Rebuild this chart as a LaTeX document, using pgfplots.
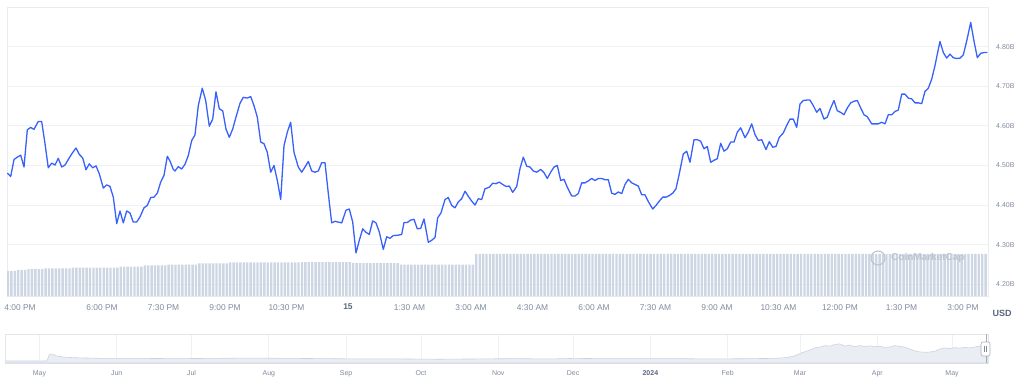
\documentclass[border=0pt]{standalone}
\usepackage{pgfplots}
\pgfplotsset{compat=1.18}
\usepackage{pgfplotstable}
\usepackage{fontspec}
\setmainfont{Liberation Sans}
\definecolor{cmcblue}{RGB}{56,97,251}
\definecolor{tickgray}{RGB}{128,138,157}
\definecolor{darkgray}{RGB}{88,102,126}
\definecolor{gridc}{RGB}{239,241,245}
\definecolor{framec}{RGB}{232,235,240}
\definecolor{barc}{RGB}{207,214,227}
\definecolor{navfill}{RGB}{234,237,243}
\definecolor{navline}{RGB}{205,211,222}
\definecolor{navborder}{RGB}{226,230,236}
\definecolor{wmc}{RGB}{190,197,210}

\pgfplotstableread[row sep=\\]{
h v\\
-8.310 4.481\\ -8.227 4.472\\ -8.146 4.515\\ -8.066 4.521\\ -7.983 4.526\\ -7.902 4.496\\
-7.822 4.590\\ -7.739 4.596\\ -7.659 4.591\\ -7.554 4.611\\ -7.471 4.611\\ -7.390 4.555\\
-7.310 4.494\\ -7.227 4.506\\ -7.146 4.501\\ -7.066 4.518\\ -6.983 4.496\\ -6.902 4.501\\
-6.822 4.515\\ -6.739 4.529\\ -6.634 4.544\\ -6.554 4.528\\ -6.471 4.519\\ -6.390 4.489\\
-6.310 4.504\\ -6.227 4.494\\ -6.146 4.499\\ -6.066 4.479\\ -5.968 4.443\\ -5.885 4.451\\
-5.805 4.447\\ -5.724 4.420\\ -5.641 4.353\\ -5.561 4.385\\ -5.480 4.355\\ -5.398 4.385\\
-5.317 4.380\\ -5.237 4.357\\ -5.154 4.357\\ -5.073 4.370\\ -4.976 4.393\\ -4.895 4.399\\
-4.812 4.419\\ -4.732 4.420\\ -4.651 4.430\\ -4.568 4.458\\ -4.488 4.475\\ -4.407 4.523\\
-4.341 4.511\\ -4.261 4.490\\ -4.220 4.486\\ -4.139 4.497\\ -4.056 4.491\\ -3.976 4.503\\
-3.895 4.525\\ -3.812 4.563\\ -3.732 4.577\\ -3.651 4.651\\ -3.554 4.695\\ -3.471 4.664\\
-3.383 4.599\\ -3.300 4.617\\ -3.220 4.686\\ -3.139 4.643\\ -3.056 4.638\\ -2.976 4.592\\
-2.895 4.571\\ -2.812 4.592\\ -2.732 4.622\\ -2.634 4.657\\ -2.554 4.672\\ -2.456 4.670\\
-2.373 4.674\\ -2.293 4.651\\ -2.212 4.622\\ -2.129 4.559\\ -2.049 4.555\\ -1.968 4.533\\
-1.885 4.483\\ -1.805 4.500\\ -1.724 4.462\\ -1.641 4.414\\ -1.561 4.550\\ -1.480 4.584\\
-1.398 4.609\\ -1.317 4.533\\ -1.212 4.496\\ -1.129 4.483\\ -1.049 4.496\\ -0.968 4.510\\
-0.885 4.486\\ -0.805 4.483\\ -0.724 4.486\\ -0.641 4.507\\ -0.561 4.507\\ -0.480 4.429\\
-0.398 4.355\\ -0.317 4.359\\ -0.237 4.357\\ -0.154 4.355\\ -0.049 4.387\\ 0.032 4.390\\
0.115 4.357\\ 0.195 4.279\\ 0.276 4.311\\ 0.359 4.340\\ 0.439 4.331\\ 0.520 4.326\\
0.602 4.360\\ 0.683 4.355\\ 0.763 4.332\\ 0.861 4.288\\ 0.944 4.320\\ 1.024 4.316\\
1.105 4.323\\ 1.227 4.324\\ 1.310 4.326\\ 1.366 4.356\\ 1.446 4.356\\ 1.529 4.362\\
1.610 4.364\\ 1.690 4.340\\ 1.773 4.341\\ 1.854 4.365\\ 1.959 4.306\\ 2.041 4.311\\
2.122 4.318\\ 2.188 4.368\\ 2.268 4.380\\ 2.366 4.414\\ 2.446 4.419\\ 2.529 4.399\\
2.610 4.393\\ 2.690 4.408\\ 2.773 4.416\\ 2.854 4.435\\ 2.934 4.422\\ 3.017 4.410\\
3.098 4.400\\ 3.178 4.416\\ 3.261 4.414\\ 3.341 4.441\\ 3.446 4.445\\ 3.529 4.455\\
3.610 4.454\\ 3.690 4.458\\ 3.773 4.452\\ 3.854 4.447\\ 3.934 4.448\\ 4.017 4.432\\
4.115 4.447\\ 4.195 4.492\\ 4.276 4.521\\ 4.359 4.498\\ 4.439 4.496\\ 4.520 4.486\\
4.602 4.483\\ 4.700 4.490\\ 4.780 4.482\\ 4.861 4.467\\ 4.944 4.483\\ 5.024 4.496\\
5.105 4.500\\ 5.188 4.462\\ 5.268 4.465\\ 5.349 4.445\\ 5.456 4.423\\ 5.537 4.423\\
5.617 4.429\\ 5.700 4.456\\ 5.780 4.456\\ 5.861 4.461\\ 5.944 4.467\\ 6.024 4.462\\
6.105 4.467\\ 6.188 4.467\\ 6.268 4.464\\ 6.349 4.464\\ 6.432 4.430\\ 6.512 4.427\\
6.593 4.433\\ 6.676 4.429\\ 6.756 4.452\\ 6.837 4.465\\ 6.920 4.456\\ 7.000 4.452\\
7.080 4.448\\ 7.163 4.426\\ 7.244 4.426\\ 7.324 4.409\\ 7.432 4.390\\ 7.512 4.399\\
7.593 4.410\\ 7.676 4.420\\ 7.756 4.420\\ 7.837 4.424\\ 7.920 4.430\\ 8.000 4.441\\
8.080 4.479\\ 8.178 4.529\\ 8.261 4.536\\ 8.341 4.508\\ 8.439 4.565\\ 8.520 4.565\\
8.602 4.561\\ 8.683 4.542\\ 8.763 4.548\\ 8.846 4.508\\ 8.927 4.513\\ 9.007 4.517\\
9.090 4.556\\ 9.171 4.536\\ 9.251 4.542\\ 9.334 4.559\\ 9.415 4.559\\ 9.495 4.584\\
9.578 4.595\\ 9.683 4.570\\ 9.763 4.584\\ 9.846 4.605\\ 9.927 4.578\\ 10.007 4.563\\
10.090 4.565\\ 10.195 4.540\\ 10.276 4.560\\ 10.359 4.546\\ 10.439 4.548\\ 10.520 4.571\\
10.617 4.582\\ 10.700 4.601\\ 10.780 4.617\\ 10.861 4.617\\ 10.944 4.596\\ 11.024 4.655\\
11.105 4.664\\ 11.188 4.665\\ 11.268 4.665\\ 11.349 4.651\\ 11.432 4.634\\ 11.512 4.644\\
11.610 4.617\\ 11.690 4.622\\ 11.773 4.645\\ 11.854 4.664\\ 11.934 4.638\\ 12.017 4.634\\
12.098 4.628\\ 12.178 4.645\\ 12.261 4.658\\ 12.341 4.662\\ 12.422 4.664\\ 12.505 4.645\\
12.585 4.628\\ 12.666 4.623\\ 12.773 4.605\\ 12.854 4.605\\ 12.934 4.605\\ 13.017 4.609\\
13.098 4.605\\ 13.178 4.628\\ 13.261 4.628\\ 13.341 4.636\\ 13.422 4.640\\ 13.505 4.680\\
13.585 4.680\\ 13.666 4.670\\ 13.749 4.668\\ 13.829 4.658\\ 13.910 4.658\\ 13.993 4.656\\
14.073 4.687\\ 14.154 4.695\\ 14.237 4.718\\ 14.317 4.752\\ 14.373 4.781\\ 14.439 4.813\\
14.520 4.785\\ 14.602 4.771\\ 14.683 4.781\\ 14.763 4.772\\ 14.846 4.770\\ 14.927 4.771\\
15.007 4.779\\ 15.090 4.814\\ 15.188 4.861\\ 15.268 4.814\\ 15.349 4.772\\ 15.432 4.783\\
15.512 4.785\\ 15.593 4.785\\
}\price

\pgfplotstableread[row sep=\\]{
v\\
8.65\\ 8.65\\ 8.7\\ 9.0\\ 9.0\\ 9.0\\ 9.3\\ 9.35\\ 9.35\\ 9.3\\ 9.35\\
9.6\\ 9.6\\ 9.6\\ 9.6\\ 9.6\\ 9.6\\ 9.6\\ 9.6\\
9.8\\ 9.8\\ 9.8\\ 9.8\\ 9.8\\ 9.8\\ 9.8\\ 9.8\\ 9.8\\ 9.8\\ 9.8\\ 9.8\\ 9.8\\ 9.8\\
10.15\\ 10.15\\ 10.15\\ 10.15\\ 10.15\\ 10.15\\ 10.15\\
10.6\\ 10.6\\ 10.6\\ 10.6\\ 10.6\\ 10.6\\ 10.6\\
10.85\\ 10.85\\ 10.85\\ 10.85\\ 10.85\\ 10.85\\ 10.85\\ 10.85\\ 10.85\\
11.3\\ 11.3\\ 11.3\\ 11.3\\ 11.3\\ 11.3\\ 11.3\\ 11.3\\ 11.3\\
11.65\\ 11.65\\ 11.65\\ 11.65\\ 11.65\\ 11.65\\ 11.65\\ 11.65\\ 11.65\\ 11.65\\
11.65\\ 11.65\\ 11.65\\ 11.65\\ 11.65\\ 11.65\\ 11.65\\ 11.65\\ 11.65\\ 11.65\\ 11.65\\
11.7\\ 11.7\\ 11.7\\ 11.7\\ 11.7\\ 11.7\\ 11.7\\ 11.7\\ 11.7\\ 11.7\\ 11.7\\ 11.7\\ 11.7\\ 11.7\\ 11.7\\
11.4\\ 11.4\\ 11.4\\ 11.4\\ 11.4\\ 11.4\\ 11.4\\ 11.4\\ 11.4\\ 11.4\\ 11.4\\ 11.4\\ 11.4\\ 11.4\\
10.9\\ 10.9\\ 10.9\\ 10.9\\ 10.9\\ 10.9\\ 10.9\\ 10.9\\ 10.9\\ 10.9\\ 10.9\\
10.9\\ 10.9\\ 10.9\\ 10.9\\ 10.9\\ 10.9\\ 10.9\\ 10.9\\ 10.9\\ 10.9\\ 10.9\\
14.6\\ 14.6\\ 14.6\\ 14.6\\ 14.6\\ 14.6\\ 14.6\\ 14.6\\ 14.6\\ 14.6\\
14.6\\ 14.6\\ 14.6\\ 14.6\\ 14.6\\ 14.6\\ 14.6\\ 14.6\\ 14.6\\ 14.6\\
14.6\\ 14.6\\ 14.6\\ 14.6\\ 14.6\\ 14.6\\ 14.6\\ 14.6\\ 14.6\\ 14.6\\
14.6\\ 14.6\\ 14.6\\ 14.6\\ 14.6\\ 14.6\\ 14.6\\ 14.6\\ 14.6\\ 14.6\\
14.6\\ 14.6\\ 14.6\\ 14.6\\ 14.6\\ 14.6\\ 14.6\\ 14.6\\ 14.6\\ 14.6\\
14.6\\ 14.6\\ 14.6\\ 14.6\\ 14.6\\ 14.6\\ 14.6\\ 14.6\\ 14.6\\ 14.6\\
14.6\\ 14.6\\ 14.6\\ 14.6\\ 14.6\\ 14.6\\ 14.6\\ 14.6\\ 14.6\\ 14.6\\
14.6\\ 14.6\\ 14.6\\ 14.6\\ 14.6\\ 14.6\\ 14.6\\ 14.6\\ 14.6\\ 14.6\\
14.6\\ 14.6\\ 14.6\\ 14.6\\ 14.6\\ 14.6\\ 14.6\\ 14.6\\ 14.6\\ 14.6\\
14.6\\ 14.6\\ 14.6\\ 14.6\\ 14.6\\ 14.6\\ 14.6\\ 14.6\\ 14.6\\ 14.6\\
14.6\\ 14.6\\ 14.6\\ 14.6\\ 14.6\\ 14.6\\ 14.6\\ 14.6\\ 14.6\\ 14.6\\
14.6\\ 14.6\\ 14.6\\ 14.6\\ 14.6\\ 14.6\\ 14.6\\ 14.6\\ 14.6\\ 14.6\\
14.6\\ 14.6\\ 14.6\\ 14.6\\ 14.6\\ 14.6\\ 14.6\\ 14.6\\ 14.6\\ 14.6\\
14.6\\ 14.6\\ 14.6\\ 14.6\\ 14.6\\ 14.6\\ 14.6\\ 14.6\\ 14.6\\ 14.6\\
14.6\\ 14.6\\ 14.6\\ 14.6\\ 14.6\\ 14.6\\ 14.6\\ 14.6\\ 14.6\\ 14.6\\
}\vol

\pgfplotstableread[row sep=\\]{
d p\\
-14 7\\ 3 7\\ 4 30\\ 5 31\\ 7 24\\ 10 20\\ 15 18\\ 25 16\\ 40 16\\ 55 15\\ 70 16\\ 85 17\\
100 16\\ 115 15\\ 130 14\\ 145 14\\ 160 13\\ 175 14\\ 190 15\\ 205 14\\ 215 16\\ 225 15\\
240 15\\ 255 15\\ 270 14\\ 285 15\\ 295 16\\ 300 19\\ 303 25\\ 306 36\\ 309 45\\ 311 52\\
313 55\\ 315 60\\ 317 58\\ 319 64\\ 321 66\\ 323 58\\ 325 62\\ 327 56\\ 329 60\\ 331 57\\
333 59\\ 335 56\\ 337 58\\ 339 54\\ 341 55\\ 343 60\\ 345 57\\ 347 55\\ 349 48\\ 351 42\\
353 38\\ 356 37\\ 359 40\\ 361 48\\ 363 52\\ 365 50\\ 367 53\\ 369 51\\ 371 54\\ 373 52\\
375 55\\ 377 58\\ 379 62\\ 380.4 60\\
}\nav

\begin{document}
\begin{tikzpicture}
\path[use as bounding box] (0,0) rectangle (1024pt,386pt);

% main price axis
\begin{axis}[
  at={(7pt,90pt)}, anchor=south west, scale only axis,
  width=981pt, height=289pt,
  xmin=-8.317, xmax=15.61, ymin=4.1704, ymax=4.90,
  axis line style={draw=framec, line width=0.8pt},
  ytick={4.2,4.3,4.4,4.5,4.6,4.7,4.8},
  yticklabels={4.20B,4.30B,4.40B,4.50B,4.60B,4.70B,4.80B},
  yticklabel pos=right,
  ymajorgrids, major grid style={draw=gridc, line width=0.8pt},
  tick style={draw=none}, major tick length=0pt,
  yticklabel style={font=\fontsize{7}{8}\selectfont, text=tickgray, anchor=west, inner sep=0pt, xshift=8pt},
  xtick={-8,-6,-4.5,-3,-1.5,0,1.5,3,4.5,6,7.5,9,10.5,12,13.5,15},
  xticklabels={4:00 PM,6:00 PM,7:30 PM,9:00 PM,10:30 PM,{\bfseries\color{darkgray}15},1:30 AM,3:00 AM,4:30 AM,6:00 AM,7:30 AM,9:00 AM,10:30 AM,12:00 PM,1:30 PM,3:00 PM},
  xticklabel style={font=\fontsize{8.4}{9}\selectfont, text=tickgray, anchor=north, inner sep=0pt, yshift=-8pt},
]
\addplot[cmcblue, line width=1.3pt, line join=round, mark=none] table[x=h, y=v] {\price};
\end{axis}

% volume bars
\begin{axis}[
  at={(7pt,90pt)}, anchor=south west, scale only axis,
  width=981pt, height=289pt,
  xmin=-0.29, xmax=286.7, ymin=0, ymax=100, hide axis,
]
\addplot[ybar, bar width=0.7, fill=barc, draw=none] table[x expr=\coordindex, y=v] {\vol};
\end{axis}

% watermark
\draw[wmc, line width=1.1pt] (878pt,128pt) circle (7pt);
\node[anchor=west, text=wmc, font=\bfseries\fontsize{10}{11}\selectfont, inner sep=0pt] at (891pt,128pt) {CoinMarketCap};

% USD
\node[font=\bfseries\fontsize{9}{10}\selectfont, text=darkgray] at (1002pt,73pt) {USD};

% navigator
\begin{axis}[
  at={(5pt,23pt)}, anchor=south west, scale only axis,
  width=983pt, height=29pt,
  xmin=-13.8, xmax=380.4, ymin=0, ymax=100,
  axis line style={draw=navborder, line width=0.8pt},
  ytick=\empty,
  xtick={0,31,61,92,123,153,184,214,245,276,305,336,366},
  xticklabels={May,Jun,Jul,Aug,Sep,Oct,Nov,Dec,{\bfseries\color{darkgray}2024},Feb,Mar,Apr,May},
  xmajorgrids, major grid style={draw=gridc, line width=0.7pt},
  tick style={draw=none}, major tick length=0pt,
  xticklabel style={font=\fontsize{7}{8}\selectfont, text=tickgray, anchor=north, inner sep=0pt, yshift=-7pt},
]
\addplot[fill=navfill, draw=navline, line width=0.6pt] table[x=d, y=p] {\nav} \closedcycle;
\end{axis}

% navigator handle
\draw[draw=tickgray!70, line width=0.7pt] (986pt,23pt) -- (986pt,52pt);
\draw[fill=white, draw=tickgray!70, rounded corners=2pt, line width=0.6pt] (981pt,30pt) rectangle (990pt,44pt);
\draw[tickgray, line width=0.5pt] (984.5pt,34pt) -- (984.5pt,40pt) (986.5pt,34pt) -- (986.5pt,40pt);
\end{tikzpicture}
\end{document}
